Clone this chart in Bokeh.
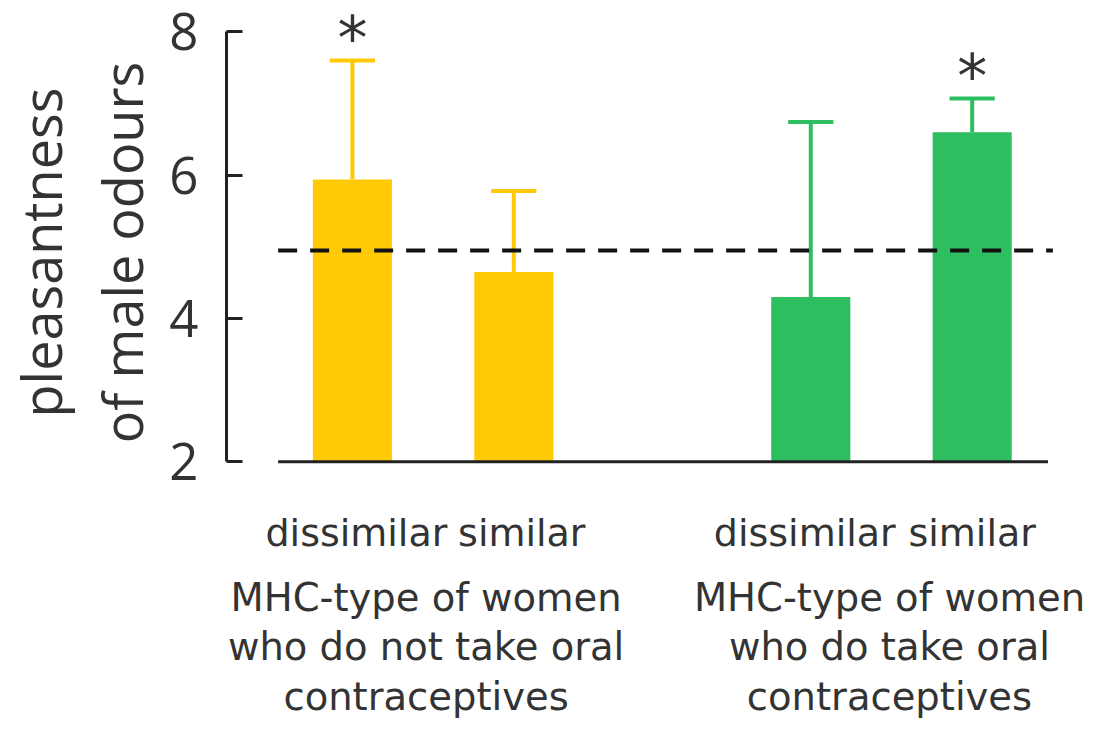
from bokeh.plotting import figure
from bokeh.layouts import column
from bokeh.models import Range1d, LinearAxis, FixedTicker, ColumnDataSource
from bokeh.core.properties import value
from bokeh.embed import file_html
from bokeh.resources import INLINE

# ---- data ----
group_labels = ["MHC-type of women\nwho do not take oral\ncontraceptives",
                "MHC-type of women\nwho do take oral\ncontraceptives"]
conditions = ["dissimilar", "similar", "dissimilar", "similar"]
group_index = [0, 0, 1, 1]
means = [5.94, 4.65, 4.30, 6.60]
upper = [7.60, 5.78, 6.74, 7.07]
significant = [True, False, False, True]
bar_colors = ["#FFCA05", "#FFCA05", "#2DBE60", "#2DBE60"]
reference_level = 4.95
y_ticks = [2, 4, 6, 8]
y_label = "pleasantness\nof male odours"

# ---- layout ----
W = 1100
FRAME_LEFT = 220
TOP_H = 504
BOTTOM_H = 214
GAP = 0.84          # extra space between the two groups (in bar-spacing units)
BAR_W = 0.49
CAP_HALF = 0.14
BASE = 2
GROUP_LABEL_SHIFT = [-7, -2]       # px
GROUP_LABEL_TOP = 70               # px below the top of the label panel
COND_LABEL_SHIFT = [4, 8, -6, 0]   # px
xpos = [i + GAP * g for i, g in enumerate(group_index)]

src = ColumnDataSource(dict(
    x=xpos, top=means, upper=upper, color=bar_colors, cond=conditions,
    base=[BASE] * len(xpos), dx=COND_LABEL_SHIFT,
    cap0=[v - CAP_HALF for v in xpos], cap1=[v + CAP_HALF for v in xpos],
))

xr = Range1d(-0.78, 4.635)

p = figure(width=W, height=TOP_H, output_backend="svg", toolbar_location=None,
           x_range=xr, y_range=Range1d(1.404, 8.437),
           x_axis_location=None, y_axis_location=None,
           min_border_left=FRAME_LEFT, min_border_right=0, min_border_top=0,
           min_border_bottom=0)
p.outline_line_color = None
p.grid.visible = False

yaxis = LinearAxis(ticker=FixedTicker(ticks=y_ticks), bounds=(2, 8),
                   axis_label=y_label)
yaxis.axis_line_width = 3
yaxis.axis_line_color = "#222222"
yaxis.major_tick_line_width = 3
yaxis.major_tick_line_color = "#222222"
yaxis.major_tick_in = 16
yaxis.major_tick_out = 0
yaxis.minor_tick_line_color = None
yaxis.major_label_text_font = "Open Sans"
yaxis.major_label_text_font_size = "51px"
yaxis.major_label_text_line_height = 1.0
yaxis.major_label_text_color = "#333333"
yaxis.major_label_standoff = 28
yaxis.axis_label_text_font = "Open Sans"
yaxis.axis_label_text_font_size = "54px"
yaxis.axis_label_text_line_height = 1.1
yaxis.axis_label_text_font_style = "normal"
yaxis.axis_label_text_color = "#333333"
yaxis.axis_label_standoff = 7
p.add_layout(yaxis, "left")

# bars
p.vbar(x="x", top="top", bottom="base", width=BAR_W, fill_color="color",
       line_color=None, source=src)

# error bars (upper only)
p.segment(x0="x", y0="top", x1="x", y1="upper", line_color="color",
          line_width=4, source=src)
p.segment(x0="cap0", y0="upper", x1="cap1", y1="upper", line_color="color",
          line_width=4, source=src)

# baseline
p.segment(x0=[xpos[0] - 0.46], y0=[BASE], x1=[xpos[-1] + 0.47], y1=[BASE],
          line_color="#222222", line_width=3)

# reference dashed line
p.segment(x0=[xpos[0] - 0.46], y0=[reference_level], x1=[xpos[-1] + 0.5],
          y1=[reference_level], line_color="#111111", line_width=4,
          line_dash="19 13")

# significance asterisks
sx = [x for x, s in zip(xpos, significant) if s]
sy = [u for u, s in zip(upper, significant) if s]
p.text(x=sx, y=sy, text=["*"] * len(sx), text_align="center",
       text_baseline="alphabetic", y_offset=-22,
       text_font=value("DejaVu Sans"), text_font_size="60px",
       text_color="#333333")

# ---- category labels panel (same x scale) ----
q = figure(width=W, height=BOTTOM_H, output_backend="svg",
           toolbar_location=None, x_range=xr,
           y_range=Range1d(-BOTTOM_H, 0),
           x_axis_location=None, y_axis_location=None,
           min_border_left=FRAME_LEFT, min_border_right=0, min_border_top=0,
           min_border_bottom=0)
q.outline_line_color = None
q.grid.visible = False

q.text(x="x", y=0, text="cond", source=src, text_align="center",
       text_baseline="alphabetic", x_offset="dx", y_offset=28,
       text_font=value("DejaVu Sans"), text_font_size="38px",
       text_color="#333333")

gx = [sum(x for x, g in zip(xpos, group_index) if g == k) /
      group_index.count(k) for k in range(len(group_labels))]
gsrc = ColumnDataSource(dict(x=gx, y=[0] * len(gx), text=group_labels,
                             dx=GROUP_LABEL_SHIFT))
q.text(x="x", y="y", text="text", source=gsrc, text_align="center",
       text_baseline="top", x_offset="dx", y_offset=GROUP_LABEL_TOP,
       text_line_height=1.1, text_font=value("DejaVu Sans"),
       text_font_size="38.5px", text_color="#333333")

layout = column(p, q, spacing=0)
open("out.html", "w").write(file_html(layout, INLINE))
